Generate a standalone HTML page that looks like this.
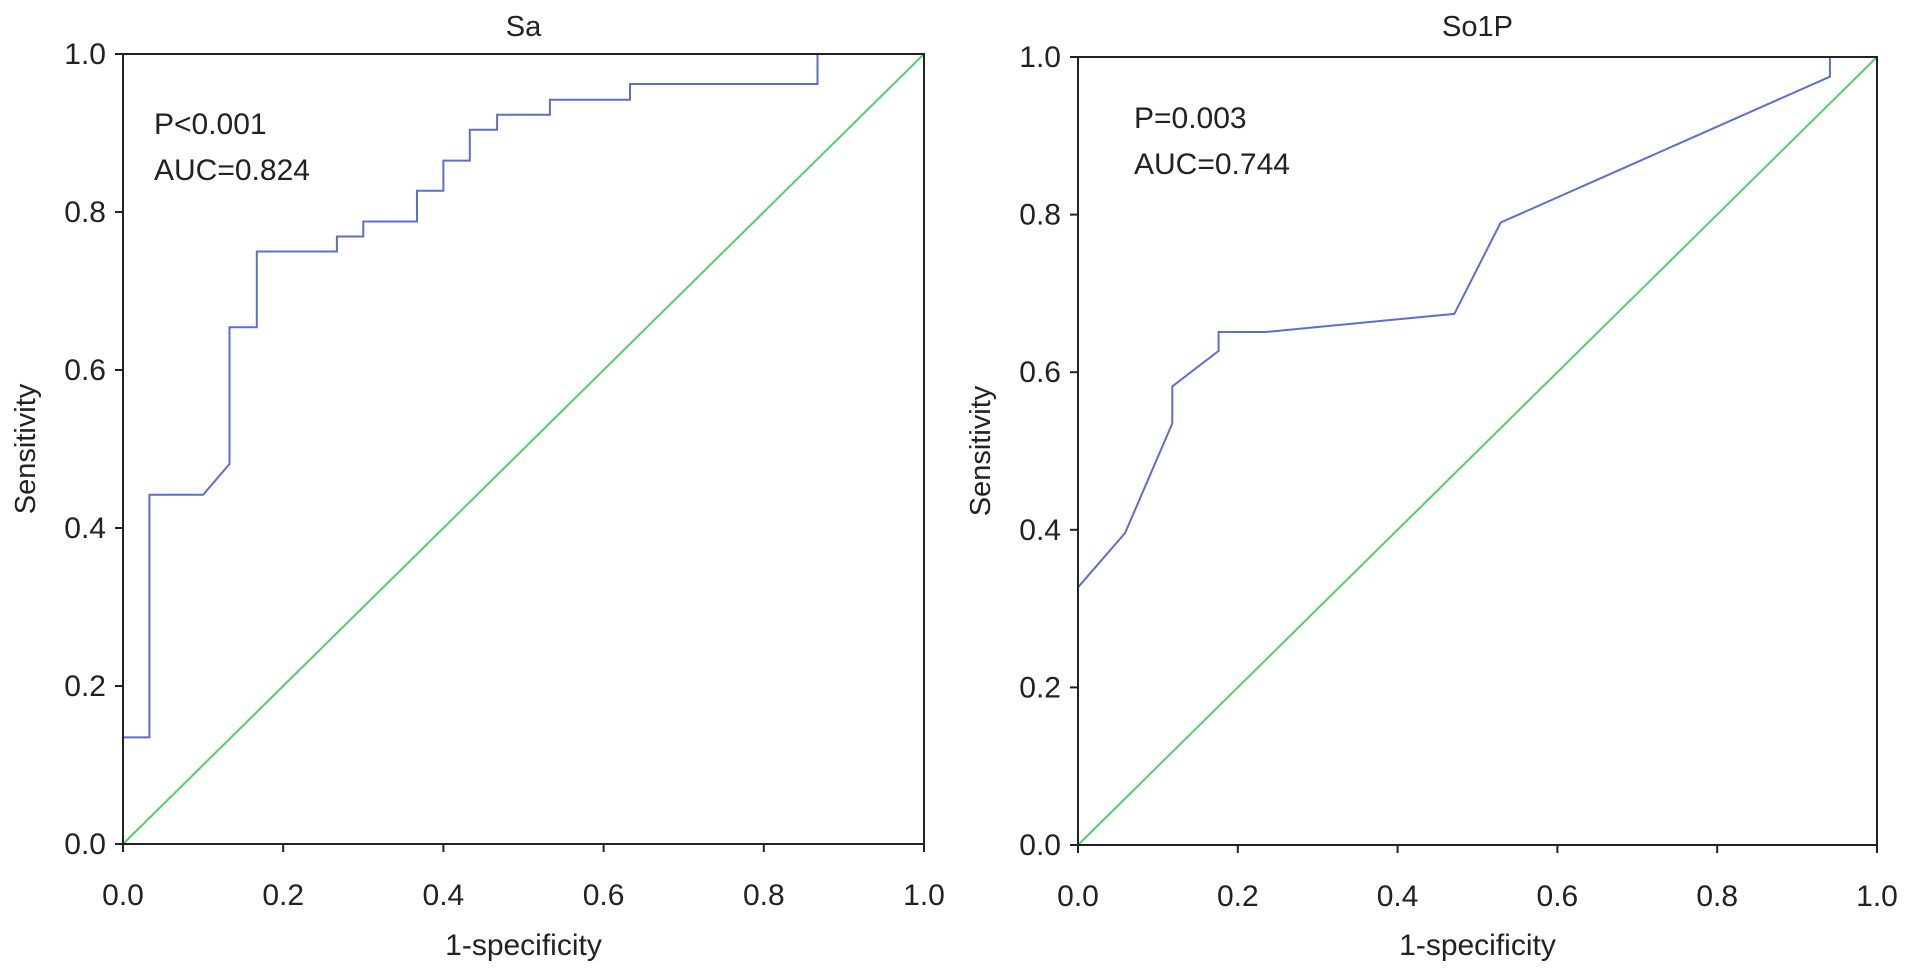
<!DOCTYPE html>
<html><head><meta charset="utf-8"><style>
html,body{margin:0;padding:0;background:#fff;}
svg{display:block;font-family:"Liberation Sans",Arial,sans-serif;}
</style></head><body>
<svg id="chart" width="1913" height="976"></svg>
<script>
const ticks = [0, 0.2, 0.4, 0.6, 0.8, 1.0];
const tickLabels = ["0.0","0.2","0.4","0.6","0.8","1.0"];
const saX = [0,0,0.033,0.033,0.1,0.133,0.133,0.167,0.167,0.267,0.267,0.3,0.3,0.367,0.367,0.4,0.4,0.433,0.433,0.467,0.467,0.533,0.533,0.633,0.633,0.867,0.867,1];
const saY = [0,0.135,0.135,0.442,0.442,0.481,0.654,0.654,0.75,0.75,0.769,0.769,0.788,0.788,0.827,0.827,0.865,0.865,0.904,0.904,0.923,0.923,0.942,0.942,0.962,0.962,1,1];
const soX = [0,0.059,0.118,0.118,0.176,0.176,0.235,0.471,0.529,0.941,0.941,1];
const soY = [0.327,0.396,0.535,0.582,0.627,0.651,0.651,0.674,0.79,0.975,1,1];
const panels = [
  {name:"sa", title:"Sa", x0:123, x1:924, y0:844, y1:54, xs:saX, ys:saY, p:"P<0.001", auc:"AUC=0.824", ax:154, ab:134},
  {name:"so1p", title:"So1P", x0:1078, x1:1877, y0:845, y1:57, xs:soX, ys:soY, p:"P=0.003", auc:"AUC=0.744", ax:1134, ab:128}
];
const svg = document.getElementById('chart');
const NS = "http://www.w3.org/2000/svg";
function mk(tag, attrs, parent){const e=document.createElementNS(NS,tag);for(const k in attrs)e.setAttribute(k,attrs[k]);(parent||svg).appendChild(e);return e;}
panels.forEach(P=>{
  const g = mk('g',{});
  
  
  const sx = v => P.x0 + v*(P.x1-P.x0);
  const sy = v => P.y0 + v*(P.y1-P.y0);
  const d = mk('line',{x1:sx(0),y1:sy(0),x2:sx(1),y2:sy(1),stroke:'#4fd16a','stroke-width':2},g);
  
  
  const pts = P.xs.map((x,i)=>sx(x).toFixed(1)+','+sy(P.ys[i]).toFixed(1)).join(' ');
  const r = mk('polyline',{points:pts,fill:'none',stroke:'#5b6fd3','stroke-width':2},g);
  
  
  const f = mk('rect',{x:P.x0,y:P.y1,width:P.x1-P.x0,height:P.y0-P.y1,fill:'none',stroke:'#222','stroke-width':2},g);
  
  
  ticks.forEach((t,i)=>{
    mk('line',{x1:sx(t),y1:P.y0,x2:sx(t),y2:P.y0+8,stroke:'#222','stroke-width':2},g);
    mk('line',{x1:P.x0-8,y1:sy(t),x2:P.x0,y2:sy(t),stroke:'#222','stroke-width':2},g);
    const xt = mk('text',{x:sx(t),y:P.y0+61,'font-size':30,'text-anchor':'middle',fill:'#222'},g);
    xt.textContent = tickLabels[i];
    
    
    const yt = mk('text',{x:P.x0-17,y:sy(t)+10,'font-size':30,'text-anchor':'end',fill:'#222'},g);
    yt.textContent = tickLabels[i];
    
    
  });
  const ti = mk('text',{x:(P.x0+P.x1)/2,y:36,'font-size':29,'text-anchor':'middle',fill:'#222'},g);
  ti.textContent = P.title;
  
  
  const xl = mk('text',{x:(P.x0+P.x1)/2,y:955,'font-size':30,'text-anchor':'middle',fill:'#222'},g);
  xl.textContent = '1-specificity';
  
  
  const yx = P.x0-88, yy=(P.y0+P.y1)/2;
  const yl = mk('text',{x:yx,y:yy,'font-size':29,'text-anchor':'middle',fill:'#222',transform:`rotate(-90 ${yx} ${yy})`},g);
  yl.textContent = 'Sensitivity';
  
  
  const pt = mk('text',{x:P.ax,y:P.ab,'font-size':30,fill:'#222'},g);
  pt.textContent = P.p;
  
  
  const at = mk('text',{x:P.ax,y:P.ab+46,'font-size':30,fill:'#222'},g);
  at.textContent = P.auc;
  
  
});
</script>
</body></html>
